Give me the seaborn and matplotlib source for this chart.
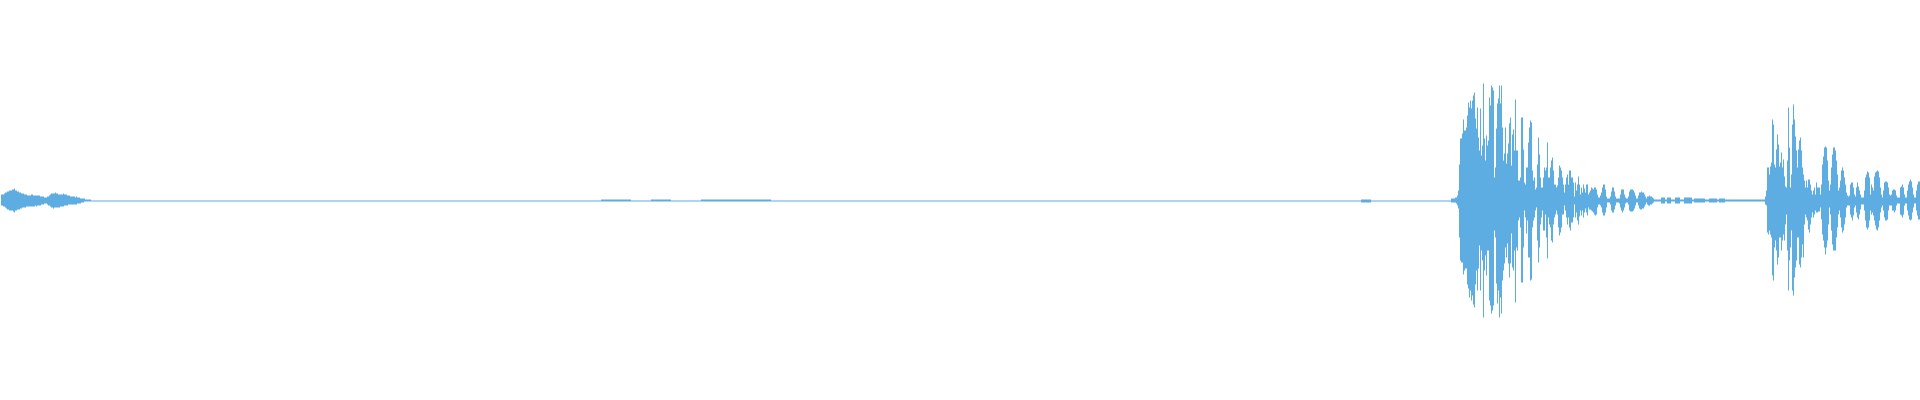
import matplotlib
matplotlib.use("Agg")
import matplotlib.pyplot as plt
import numpy as np
import pandas as pd
import seaborn as sns

WAVE_COLOR = "#5dade2"

# peak levels per frame column, in 1/200 of full scale
# intro: frames 0..89
intro_top = [6, 6, 6, 7, 8, 8, 9, 9, 10, 10,
             10, 11, 11, 12, 10, 10, 9, 9, 8, 8,
             7, 7, 7, 6, 6, 6, 5, 5, 5, 5,
             6, 6, 5, 5, 5, 5, 5, 5, 5, 4,
             4, 4, 4, 3, 3, 3, 4, 4, 5, 6,
             7, 7, 7, 7, 8, 7, 7, 6, 6, 6,
             6, 6, 7, 6, 6, 6, 5, 5, 5, 4,
             4, 4, 4, 4, 3, 4, 3, 3, 3, 2,
             2, 2, 2, 2, 1, 1, 1, 1, 1, 1]
intro_bottom = [5, 5, 6, 6, 7, 8, 9, 9, 10, 10,
                10, 10, 11, 12, 10, 10, 9, 9, 9, 8,
                8, 7, 7, 7, 7, 6, 6, 6, 6, 6,
                6, 6, 6, 6, 5, 6, 5, 5, 5, 5,
                4, 4, 4, 3, 3, 3, 4, 5, 5, 6,
                7, 7, 8, 7, 7, 7, 7, 7, 7, 6,
                6, 6, 6, 5, 5, 5, 5, 4, 4, 4,
                4, 4, 4, 4, 4, 4, 3, 3, 3, 3,
                2, 2, 2, 1, 1, 1, 1, 1, 1, 1]

# near-silent stretch: frames 90..1449, one level per 10 frames (half units)
quiet_start = 90
quiet_block = 10
quiet_unit = 0.5
quiet_levels = ("1111111111111111111111111111111111"
                "1111111111111111122211221112222222"
                "1111111111111111111111111111111111"
                "1111111111111111111111111311111111")

# two bursts: frames 1450..1919
burst_start = 1450
burst_top = [
    2, 2, 2, 2, 3, 3, 5, 10, 36, 62,
    62, 67, 81, 70, 70, 73, 85, 98, 93, 100,
    92, 100, 105, 108, 82, 72, 93, 63, 50, 92,
    45, 55, 117, 62, 40, 65, 55, 60, 103, 95,
    115, 113, 110, 23, 33, 72, 97, 102, 115, 97,
    115, 73, 40, 47, 73, 37, 47, 57, 77, 83,
    35, 66, 71, 50, 101, 50, 50, 20, 20, 23,
    83, 83, 51, 18, 16, 33, 33, 58, 73, 80,
    78, 30, 20, 23, 11, 13, 36, 63, 46, 23,
    13, 13, 23, 33, 30, 33, 58, 23, 23, 33,
    40, 43, 30, 16, 16, 13, 15, 23, 35, 33,
    30, 23, 16, 8, 16, 23, 26, 16, 30, 30,
    23, 23, 18, 4, 18, 10, 16, 24, 16, 6,
    13, 8, 16, 12, 8, 16, 16, 6, 8, 10,
    13, 12, 11, 13, 13, 11, 6, 3, 3, 5,
    8, 13, 16, 16, 11, 4, 2, 2, 2, 4,
    9, 13, 13, 9, 4, 2, 2, 2, 2, 6,
    11, 11, 11, 6, 3, 2, 2, 4, 9, 11,
    11, 11, 10, 8, 5, 2, 2, 5, 8, 8,
    9, 8, 8, 6, 4, 2, 4, 4, 5, 4,
    4, 3, 2, 1, 1, 1, 1, 1, 1, 1,
    3, 3, 3, 3, 1, 1, 3, 3, 3, 3,
    1, 1, 1, 1, 3, 3, 3, 3, 3, 1,
    1, 1, 1, 3, 3, 3, 3, 3, 3, 3,
    3, 1, 1, 2, 2, 2, 2, 2, 2, 2,
    2, 2, 2, 2, 1, 1, 1, 1, 2, 2,
    2, 2, 2, 2, 2, 2, 1, 1, 2, 2,
    2, 2, 2, 2, 1, 1, 1, 1, 1, 1,
    1, 1, 1, 1, 1, 1, 1, 1, 1, 1,
    1, 1, 1, 1, 1, 1, 1, 1, 1, 1,
    1, 1, 1, 1, 1, 1, 1, 1, 1, 1,
    1, 1, 1, 1, 4, 10, 33, 33, 26, 34,
    38, 81, 76, 36, 33, 51, 66, 56, 34, 38,
    48, 33, 41, 24, 14, 13, 40, 93, 53, 13,
    26, 76, 96, 81, 64, 50, 33, 51, 60, 63,
    50, 33, 26, 20, 13, 20, 13, 21, 21, 16,
    10, 6, 10, 13, 6, 18, 13, 13, 13, 6,
    16, 36, 44, 53, 54, 53, 40, 20, 10, 16,
    33, 46, 53, 53, 50, 40, 26, 10, 13, 20,
    30, 33, 30, 23, 16, 8, 5, 4, 5, 16,
    18, 18, 13, 6, 4, 13, 18, 14, 10, 6,
    3, 3, 3, 10, 23, 26, 29, 28, 23, 6,
    16, 13, 10, 24, 28, 29, 30, 29, 23, 13,
    6, 3, 10, 18, 19, 19, 18, 13, 6, 5,
    6, 10, 11, 11, 10, 5, 3, 3, 3, 13,
    14, 16, 13, 6, 3, 3, 10, 16, 19, 21,
    19, 13, 6, 3, 3, 10, 16, 19, 19, 16,
]
burst_bottom = [
    2, 2, 2, 2, 2, 3, 5, 8, 37, 60,
    62, 62, 74, 70, 68, 68, 84, 88, 97, 90,
    100, 95, 104, 107, 84, 70, 90, 68, 45, 90,
    50, 60, 117, 70, 55, 75, 50, 50, 100, 105,
    113, 110, 105, 30, 37, 83, 103, 90, 117, 97,
    113, 80, 70, 63, 47, 57, 43, 63, 77, 63,
    33, 67, 70, 50, 102, 47, 50, 20, 17, 27,
    82, 82, 47, 10, 17, 33, 20, 57, 57, 80,
    79, 27, 20, 17, 10, 7, 40, 62, 47, 24,
    17, 10, 30, 30, 14, 37, 58, 17, 24, 27,
    40, 42, 24, 17, 14, 10, 14, 27, 35, 32,
    27, 14, 14, 5, 10, 17, 24, 17, 27, 30,
    22, 22, 17, 4, 17, 12, 20, 24, 16, 10,
    15, 10, 17, 12, 8, 12, 15, 7, 9, 9,
    10, 11, 12, 14, 15, 14, 7, 4, 4, 5,
    7, 12, 15, 15, 12, 7, 2, 2, 2, 4,
    10, 12, 12, 9, 5, 2, 2, 2, 3, 7,
    10, 12, 10, 7, 3, 2, 2, 4, 10, 11,
    11, 11, 10, 8, 5, 2, 2, 5, 8, 9,
    9, 8, 8, 6, 4, 2, 4, 5, 5, 4,
    4, 3, 2, 1, 1, 1, 1, 1, 1, 1,
    3, 3, 3, 3, 1, 1, 3, 3, 3, 3,
    1, 1, 1, 1, 3, 3, 3, 3, 3, 1,
    1, 1, 1, 3, 3, 3, 3, 3, 3, 3,
    3, 1, 1, 2, 2, 2, 2, 2, 2, 2,
    2, 2, 2, 2, 1, 1, 1, 1, 2, 2,
    2, 2, 2, 2, 2, 2, 1, 1, 2, 2,
    2, 2, 2, 2, 1, 1, 1, 1, 1, 1,
    1, 1, 1, 1, 1, 1, 1, 1, 1, 1,
    1, 1, 1, 1, 1, 1, 1, 1, 1, 1,
    1, 1, 1, 1, 1, 1, 1, 1, 1, 1,
    1, 1, 1, 1, 4, 5, 32, 34, 30, 34,
    37, 75, 80, 47, 40, 50, 64, 57, 37, 37,
    50, 40, 34, 40, 24, 14, 50, 90, 60, 47,
    30, 90, 95, 77, 67, 60, 37, 37, 64, 67,
    57, 44, 57, 24, 14, 17, 20, 29, 32, 24,
    17, 12, 17, 14, 10, 12, 12, 11, 11, 7,
    19, 34, 40, 47, 54, 47, 40, 24, 7, 14,
    30, 44, 50, 50, 50, 37, 27, 14, 10, 17,
    27, 32, 30, 24, 17, 7, 5, 5, 5, 14,
    17, 20, 15, 7, 5, 12, 17, 19, 14, 9,
    4, 4, 4, 10, 20, 27, 29, 27, 20, 10,
    14, 12, 15, 20, 25, 29, 30, 27, 20, 12,
    7, 5, 10, 17, 20, 20, 19, 10, 5, 5,
    5, 10, 10, 12, 10, 5, 3, 3, 3, 14,
    15, 17, 14, 5, 3, 3, 10, 15, 19, 20,
    19, 12, 7, 3, 3, 10, 15, 19, 19, 15,
]

# assemble one row per frame column
quiet = [int(c) * quiet_unit for c in quiet_levels for _ in range(quiet_block)]
top = intro_top + quiet + burst_top
bottom = intro_bottom + quiet + burst_bottom
n_frames = len(top)

df = pd.DataFrame({
    "frame": np.arange(n_frames),
    "top": top,
    "bottom": bottom,
})

sns.set_style("white")

fig = plt.figure(figsize=(19.2, 4), dpi=100)
ax = fig.add_axes([0, 0, 1, 1])

ax.vlines(df["frame"] + 0.5, -df["bottom"], df["top"],
          color=WAVE_COLOR, linewidth=0.72)

ax.set_xlim(0, n_frames)
ax.set_ylim(-200, 200)
ax.axis("off")
sns.despine(left=True, bottom=True)

fig.savefig("out.png", dpi=100, facecolor="white")
